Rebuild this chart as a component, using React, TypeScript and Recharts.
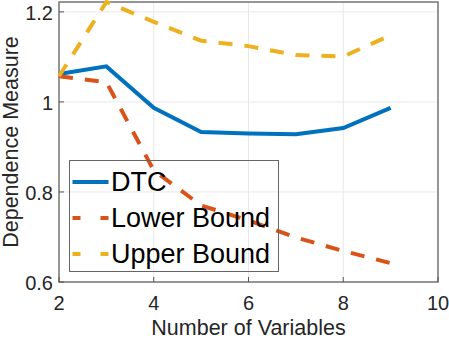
import React from "react";
import {
  LineChart,
  Line,
  XAxis,
  YAxis,
  CartesianGrid,
  ReferenceArea,
  Legend,
  Label
} from "recharts";

const variables = [2, 3, 4, 5, 6, 7, 8, 9];
const dtc = [1.062, 1.079, 0.987, 0.933, 0.93, 0.928, 0.942, 0.987];
const lowerBound = [1.057, 1.044, 0.848, 0.77, 0.737, 0.699, 0.669, 0.642];
const upperBound = [1.057, 1.222, 1.178, 1.136, 1.124, 1.104, 1.101, 1.148];

const xTicks = [2, 4, 6, 8, 10];
const yTicks = [0.6, 0.8, 1, 1.2];
const X_MIN = 2;
const X_MAX = 10;
const Y_MIN = 0.6;
const Y_MAX = 1.222;

const series = [
  { key: "dtc", name: "DTC", color: "#0072BD", dashed: false },
  { key: "lower", name: "Lower Bound", color: "#D95319", dashed: true },
  { key: "upper", name: "Upper Bound", color: "#EDB120", dashed: true }
];

const data = variables.map((v, i) => ({
  x: v,
  dtc: dtc[i],
  lower: lowerBound[i],
  upper: upperBound[i]
}));

const FONT = "'Liberation Sans', Arial, Helvetica, sans-serif";
const AXIS_COLOR = "#262626";
const TICK_LEN = 5;

// tickSize/tickMargin are 0, so x/y handed to the tick is the axis position itself
function BottomTick(props: any) {
  const { x, y, payload } = props;
  return (
    <g>
      <line x1={x} x2={x} y1={y} y2={y - TICK_LEN} stroke="#555" />
      <text x={x} y={y + 21} textAnchor="middle" dominantBaseline="central"
        fontFamily={FONT} fontSize={20} fill={AXIS_COLOR}>
        {payload.value}
      </text>
    </g>
  );
}

function TopTick(props: any) {
  const { x, y } = props;
  return <line x1={x} x2={x} y1={y} y2={y + TICK_LEN} stroke="#555" />;
}

function LeftTick(props: any) {
  const { x, y, payload } = props;
  return (
    <g>
      <line x1={x} x2={x + TICK_LEN} y1={y} y2={y} stroke="#555" />
      <text x={x - 6} y={y + 1} textAnchor="end" dominantBaseline="central"
        fontFamily={FONT} fontSize={20} fill={AXIS_COLOR}>
        {payload.value}
      </text>
    </g>
  );
}

function RightTick(props: any) {
  const { x, y } = props;
  return <line x1={x} x2={x - TICK_LEN} y1={y} y2={y} stroke="#555" />;
}

function LegendBox() {
  return (
    <div
      style={{
        border: "1px solid #666",
        width: 210,
        height: 112,
        boxSizing: "border-box",
        paddingTop: 3,
        fontFamily: FONT
      }}
    >
      {series.map((s) => (
        <div key={s.key} style={{ display: "flex", alignItems: "center", height: 36 }}>
          <svg width={41} height={36} style={{ display: "block" }}>
            <line
              x1={2.5}
              x2={38.5}
              y1={18}
              y2={18}
              stroke={s.color}
              strokeWidth={4}
              strokeDasharray={s.dashed ? "8 20" : undefined}
            />
          </svg>
          <span style={{ fontSize: 27, lineHeight: "36px", color: "#000", whiteSpace: "nowrap" }}>
            {s.name}
          </span>
        </div>
      ))}
    </div>
  );
}

export default function App() {
  return (
    <div style={{ position: "absolute", left: 0, top: 0 }}>
      <LineChart
        width={449}
        height={339}
        data={data}
        margin={{ top: 2, right: 11, bottom: 0, left: 0 }}
      >
        <CartesianGrid stroke="#e8e8e8" strokeWidth={1} />
        <XAxis
          dataKey="x"
          type="number"
          domain={[X_MIN, X_MAX]}
          ticks={xTicks}
          height={57}
          axisLine={false}
          tickLine={false}
          tickSize={0}
          tickMargin={0}
          tick={<BottomTick />}
        >
          <Label
            content={(p: any) => {
              const vb = p.viewBox;
              return (
                <text x={vb.x + vb.width / 2} y={vb.y + 45.5} textAnchor="middle" dominantBaseline="central"
                  fontFamily={FONT} fontSize={21.5} fill={AXIS_COLOR}>
                  Number of Variables
                </text>
              );
            }}
          />
        </XAxis>
        <XAxis
          xAxisId="top"
          dataKey="x"
          type="number"
          orientation="top"
          domain={[X_MIN, X_MAX]}
          ticks={xTicks}
          height={0}
          axisLine={false}
          tickLine={false}
          tickSize={0}
          tickMargin={0}
          tick={<TopTick />}
        />
        <YAxis
          type="number"
          domain={[Y_MIN, Y_MAX]}
          ticks={yTicks}
          width={59}
          axisLine={false}
          tickLine={false}
          tickSize={0}
          tickMargin={0}
          tick={<LeftTick />}
        >
          <Label
            content={(p: any) => {
              const vb = p.viewBox;
              const cx = vb.x + 10.5;
              const cy = vb.y + vb.height / 2;
              return (
                <text x={cx} y={cy} textAnchor="middle" dominantBaseline="central"
                  transform={`rotate(-90 ${cx} ${cy})`}
                  fontFamily={FONT} fontSize={21.5} fill={AXIS_COLOR}>
                  Dependence Measure
                </text>
              );
            }}
          />
        </YAxis>
        <YAxis
          yAxisId="right"
          type="number"
          orientation="right"
          domain={[Y_MIN, Y_MAX]}
          ticks={yTicks}
          width={0}
          axisLine={false}
          tickLine={false}
          tickSize={0}
          tickMargin={0}
          tick={<RightTick />}
        />
        <ReferenceArea
          x1={X_MIN}
          x2={X_MAX}
          y1={Y_MIN}
          y2={Y_MAX}
          fill="none"
          stroke="#777"
          strokeWidth={1.5}
          ifOverflow="visible"
        />
        {series.map((s) => (
          <Line
            key={s.key}
            type="linear"
            dataKey={s.key}
            name={s.name}
            stroke={s.color}
            strokeWidth={4}
            strokeDasharray={s.dashed ? "14 12" : undefined}
            dot={false}
            activeDot={false}
            isAnimationActive={false}
          />
        ))}
        <Legend
          layout="vertical"
          align="center"
          verticalAlign="middle"
          content={<LegendBox />}
          wrapperStyle={{ left: 69, top: 160, width: 210, height: 112 }}
        />
      </LineChart>
    </div>
  );
}
